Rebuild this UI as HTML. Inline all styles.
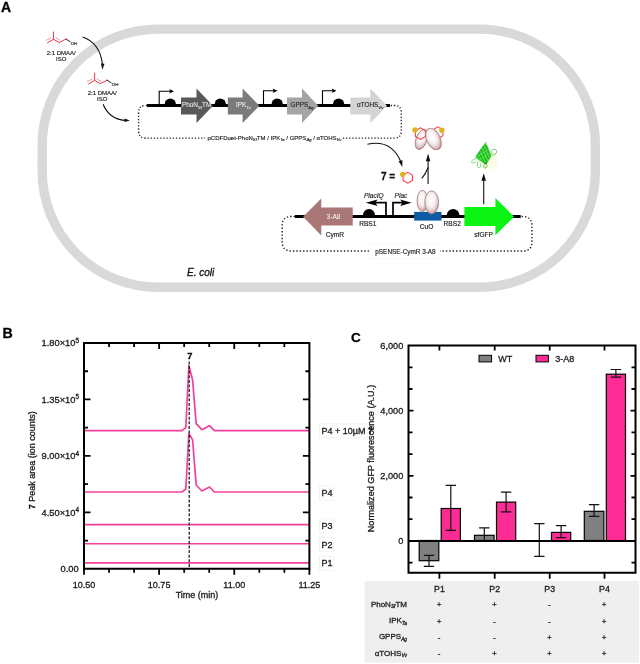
<!DOCTYPE html>
<html><head><meta charset="utf-8"><title>Figure</title>
<style>
html,body{margin:0;padding:0;background:#fff;width:640px;height:664px;overflow:hidden}
svg{display:block}
text{font-family:"Liberation Sans",Arial,sans-serif}
.it{font-style:italic}
.b{font-weight:bold}
</style></head><body>
<svg width="640" height="664" viewBox="0 0 640 664" fill="#1a1a1a">
<defs>
<radialGradient id="prot" cx="0.45" cy="0.4" r="0.6">
<stop offset="0" stop-color="#ffffff"/>
<stop offset="0.5" stop-color="#f6f0f1"/>
<stop offset="0.8" stop-color="#dcc8c9"/>
<stop offset="1" stop-color="#b98f91"/>
</radialGradient>
</defs>
<text x="1" y="11.5" font-size="14" class="b" fill="#000" stroke="#000" stroke-width="0.30">A</text>
<rect x="42.2" y="29.1" width="553.2" height="258.2" rx="116" ry="116" fill="none" stroke="#d9d9d9" stroke-width="9.4"/>
<g transform="translate(53.5,39.25)" stroke-linecap="round"><path d="M0,-7.25 V0 L-6,3.5 M0,0 L5.75,3.25 L12.5,-0.25" fill="none" stroke="#f4364c" stroke-width="1"/><path d="M-7.25,1 L-2.5,-1.3 M2.5,-1.3 L6.2,0.8" fill="none" stroke="#f57a90" stroke-width="0.9" stroke-dasharray="1 0.9"/><path d="M12.5,-0.25 L16.5,2.4" fill="none" stroke="#222" stroke-width="1"/><text x="17.2" y="5.3" font-size="4.4" fill="#222" stroke="#222" stroke-width="0.15">OH</text></g>
<text x="61.15" y="55" font-size="6" text-anchor="middle" stroke="#1a1a1a" stroke-width="0.15">2:1 DMAA/</text>
<text x="61.15" y="60.8" font-size="6" text-anchor="middle" stroke="#1a1a1a" stroke-width="0.15">ISO</text>
<g transform="translate(94.6,80.4)" stroke-linecap="round"><path d="M0,-7.25 V0 L-6,3.5 M0,0 L5.75,3.25 L12.5,-0.25" fill="none" stroke="#f4364c" stroke-width="1"/><path d="M-7.25,1 L-2.5,-1.3 M2.5,-1.3 L6.2,0.8" fill="none" stroke="#f57a90" stroke-width="0.9" stroke-dasharray="1 0.9"/><path d="M12.5,-0.25 L16.5,2.4" fill="none" stroke="#222" stroke-width="1"/><text x="17.2" y="5.3" font-size="4.4" fill="#222" stroke="#222" stroke-width="0.15">OH</text></g>
<text x="102.15" y="94.7" font-size="6" text-anchor="middle" stroke="#1a1a1a" stroke-width="0.15">2:1 DMAA/</text>
<text x="102.15" y="100.5" font-size="6" text-anchor="middle" stroke="#1a1a1a" stroke-width="0.15">ISO</text>
<path d="M82.7,37.1 Q100,43 102.5,64.5" fill="none" stroke="#111" stroke-width="1.1"/>
<polygon points="102.40,69.70 100.90,63.62 104.50,63.80" fill="#111"/>
<path d="M103.1,104.25 Q109,119 125,120.4" fill="none" stroke="#111" stroke-width="1.1"/>
<polygon points="130.00,120.60 124.42,122.12 124.60,118.53" fill="#111"/>
<path d="M367.4,144.2 Q391,139 400.8,161.5" fill="none" stroke="#111" stroke-width="1.1"/>
<polygon points="402.30,167.10 398.59,161.28 402.45,160.21" fill="#111"/>
<path d="M147,105.5 H145.5 Q138.6,105.5 138.6,112.5 V131 Q138.6,138.1 145.5,138.1 H394.3 Q401.3,138.1 401.3,131 V112.5 Q401.3,105.5 394.3,105.5 H390" fill="none" stroke="#222" stroke-width="1.35" stroke-dasharray="1.3 1.85"/>
<rect x="205" y="133" width="138" height="9" fill="#fff"/>
<text x="207.5" y="139.7" font-size="6" fill="#222" stroke="#222" stroke-width="0.15">pCDFDuet-PhoN<tspan font-size="4.2" dy="1.3" class="it">Sf</tspan><tspan dy="-1.3">TM / IPK</tspan><tspan font-size="4.2" dy="1.3" class="it">Ta</tspan><tspan dy="-1.3"> / GPPS</tspan><tspan font-size="4.2" dy="1.3" class="it">Ag</tspan><tspan dy="-1.3"> / αTOHS</tspan><tspan font-size="4.2" dy="1.3" class="it">Vv</tspan></text>
<rect x="147" y="104" width="243" height="3" fill="#000"/>
<path d="M159.2,104.5 V91.3 H170.7" fill="none" stroke="#000" stroke-width="1.1"/><polygon points="174,91.3 169.2,89.0 170.2,91.3 169.2,93.6" fill="#000"/>
<path d="M263.5,104.5 V90.8 H274.2" fill="none" stroke="#000" stroke-width="1.1"/><polygon points="277.5,90.8 272.7,88.5 273.7,90.8 272.7,93.1" fill="#000"/>
<path d="M322.5,104.5 V90.8 H333.2" fill="none" stroke="#000" stroke-width="1.1"/><polygon points="336.5,90.8 331.7,88.5 332.7,90.8 331.7,93.1" fill="#000"/>
<path d="M164.5,105 A5.8,6.6 0 0 1 176.10000000000002,105 Z" fill="#000"/>
<path d="M214.5,105 A5.8,6.6 0 0 1 226.10000000000002,105 Z" fill="#000"/>
<path d="M271.4,105 A5.8,6.6 0 0 1 283.0,105 Z" fill="#000"/>
<path d="M332.8,105 A5.8,6.6 0 0 1 344.40000000000003,105 Z" fill="#000"/>
<path d="M181,97.4 H196.5 V88.6 L213,105.7 L196.5,122.9 V114.4 H181 Z" fill="#595959"/>
<path d="M227.8,97.4 H242.6 V88.6 L259.4,105.7 L242.6,122.9 V114.4 H227.8 Z" fill="#7b7b7b"/>
<path d="M287,97.4 H302 V88.6 L318.3,105.7 L302,122.9 V114.4 H287 Z" fill="#a4a4a4"/>
<path d="M350.3,97.4 H370.4 V88.6 L387,105.7 L370.4,122.9 V114.4 H350.3 Z" fill="#d4d4d4"/>
<text x="182" y="107.4" font-size="6.4" fill="#fff">PhoN<tspan font-size="4.3" dy="1.5" class="it">Sf</tspan><tspan dy="-1.5">TM</tspan></text>
<text x="236" y="107.4" font-size="6.4" fill="#fff">IPK<tspan font-size="4.3" dy="1.5" class="it">Ta</tspan></text>
<text x="290.5" y="107.4" font-size="6.4" fill="#2a2a2a" stroke="#2a2a2a" stroke-width="0.15">GPPS<tspan font-size="4.3" dy="1.5" class="it">Ag</tspan></text>
<text x="357" y="107.4" font-size="6.4" fill="#2a2a2a" stroke="#2a2a2a" stroke-width="0.15">αTOHS<tspan font-size="4.3" dy="1.5" class="it">Vv</tspan></text>
<path d="M295,216.5 H291.2 Q282.2,216.5 282.2,225.5 V242 Q282.2,251 291.2,251 H522.7 Q531.9,251 531.9,242 V225.5 Q531.9,216.5 522.7,216.5 H520.7" fill="none" stroke="#222" stroke-width="1.4" stroke-dasharray="1.4 2.0"/>
<rect x="369" y="243.7" width="71" height="14.8" fill="#fff" stroke="#ececec" stroke-width="0.7" stroke-dasharray="1 1"/>
<text x="375.3" y="253.6" font-size="6.4" fill="#222" stroke="#222" stroke-width="0.15">pSENSE-CymR 3-A8</text>
<rect x="295" y="215" width="225.7" height="3" fill="#000"/>
<path d="M352.75,207.5 H321.25 V198.5 L303.1,216.8 L321.25,235.6 V225.6 H352.75 Z" fill="#a97876"/>
<text x="333.5" y="219.4" font-size="6.6" fill="#fff" text-anchor="middle">3-A8</text>
<text x="334.9" y="237.3" font-size="6.6" text-anchor="middle" stroke="#1a1a1a" stroke-width="0.15">CymR</text>
<path d="M363,215.5 A6,6.6 0 0 1 375,215.5 Z" fill="#000"/>
<text x="367.8" y="225.7" font-size="6.6" text-anchor="middle" stroke="#1a1a1a" stroke-width="0.15">RBS1</text>
<path d="M386,215.5 V202.7 H374.7" fill="none" stroke="#000" stroke-width="1.7"/><polygon points="365.7,202.7 377.7,199.39999999999998 375.2,202.7 377.7,206.0" fill="#000"/>
<path d="M393,215.5 V202.7 H403.1" fill="none" stroke="#000" stroke-width="1.7"/><polygon points="411.6,202.7 400.1,199.39999999999998 402.6,202.7 400.1,206.0" fill="#000"/>
<text x="373.8" y="197.5" font-size="6.6" class="it" text-anchor="middle" stroke="#1a1a1a" stroke-width="0.15">PlacIQ</text>
<text x="401" y="197.5" font-size="6.6" class="it" text-anchor="middle" stroke="#1a1a1a" stroke-width="0.15">Plac</text>
<rect x="414.2" y="211.9" width="27.3" height="8.7" fill="#0d5aa5"/>
<text x="426.6" y="228.5" font-size="6.6" text-anchor="middle" stroke="#1a1a1a" stroke-width="0.15">CuO</text>
<path d="M446.8,215.5 A6.3,6.6 0 0 1 459.40000000000003,215.5 Z" fill="#000"/>
<text x="452.2" y="225.9" font-size="6.6" text-anchor="middle" stroke="#1a1a1a" stroke-width="0.15">RBS2</text>
<path d="M464.4,207.1 H495.4 V198.1 L514.1,216.7 L495.4,235.3 V225.9 H464.4 Z" fill="#0cf414"/>
<text x="483.6" y="237.3" font-size="6.6" text-anchor="middle" stroke="#1a1a1a" stroke-width="0.15">sfGFP</text>
<ellipse cx="422.4" cy="200.9" rx="5.3" ry="10.6" fill="url(#prot)" stroke="#b08486" stroke-width="0.9"/>
<ellipse cx="431.7" cy="202.4" rx="6.9" ry="11.5" fill="url(#prot)" stroke="#b08486" stroke-width="0.9"/>
<ellipse cx="0" cy="0" rx="5.5" ry="10.5" transform="translate(421.5,139.5) rotate(20)" fill="url(#prot)" stroke="#b08486" stroke-width="0.9"/>
<polygon points="420.40,127.80 425.42,130.70 425.42,136.50 420.40,139.40 415.38,136.50 415.38,130.70" fill="none" stroke="#ff3a4c" stroke-width="1.05"/>
<polygon points="437.90,126.90 442.92,129.80 442.92,135.60 437.90,138.50 432.88,135.60 432.88,129.80" fill="none" stroke="#ff3a4c" stroke-width="1.05"/>
<ellipse cx="0" cy="0" rx="6.8" ry="11.5" transform="translate(433.5,139) rotate(-25)" fill="url(#prot)" stroke="#b08486" stroke-width="0.9"/>
<circle cx="415" cy="130" r="2.7" fill="#e3b31c"/>
<circle cx="441.8" cy="130.3" r="2.7" fill="#e3b31c"/>
<text x="381" y="179.8" font-size="10" class="b" fill="#111" stroke="#111" stroke-width="0.30">7 =</text>
<polygon points="407.75,172.35 412.43,175.05 412.43,180.45 407.75,183.15 403.07,180.45 403.07,175.05" fill="none" stroke="#ff3a4c" stroke-width="1.05"/>
<circle cx="402.75" cy="174.4" r="2.7" fill="#e3b31c"/>
<path d="M428.1,184 V160" fill="none" stroke="#111" stroke-width="1.1"/>
<polygon points="428.10,153.70 430.40,161.20 425.80,161.20" fill="#111"/>
<path d="M421.9,178.3 Q425.5,174 428.1,167.5" fill="none" stroke="#111" stroke-width="1.1"/>
<path d="M483.7,204.3 V179" fill="none" stroke="#111" stroke-width="1.1"/>
<polygon points="483.70,173.20 486.00,180.70 481.40,180.70" fill="#111"/>
<ellipse cx="488.5" cy="160" rx="9" ry="9.5" fill="#fdfbe4"/>
<g fill="none" stroke-linejoin="round" stroke-linecap="round"><path d="M485.2,144.2 Q487,144.5 487.6,147 L490.8,155.6 Q491,157 489.8,158 L486.6,163.4 Q485.6,164.4 484.4,163.4 L476.6,158 Q475.6,157 476.3,155.8 L483.6,145.2 Q484.2,144.2 485.2,144.2 Z" fill="#2bd42b" stroke="#1fb51f" stroke-width="0.6"/><path d="M483,147 L488.5,158.5 M481,149.5 L486.5,161.5 M479,152.5 L484.5,163 M485.5,146 L490,156" stroke="#119c11" stroke-width="0.7"/><path d="M482,148 L487.5,160 M480,151 L485.5,162.5 M484.3,146.3 L489.3,157.5" stroke="#7cf07c" stroke-width="0.45"/><path d="M478,156 L488,150 M480,159.5 L489.5,153.5" stroke="#9af59a" stroke-width="0.4"/><path d="M490.5,152 C492,149 495.5,148.5 496.5,150.5 C497.3,152.5 495.5,155 492.5,154.8 C491.5,154.6 491,153.5 491.8,152.6" stroke="#33c433" stroke-width="0.8"/><path d="M478,158 C475,158.5 471.5,160 471.5,162 C471.8,163.5 474.5,163 476,161.5 M479.5,160 C477,162 476.5,166 478.5,167.5 C480.5,168.5 481.5,166 480.5,163.5" stroke="#4fcc4f" stroke-width="0.75"/><path d="M485,163.8 C483,165 483,167.8 485,168 C487,168.2 487.5,166 486.5,164.5" stroke="#2bbf2b" stroke-width="0.8"/><path d="M484.8,143.8 C484.5,142.5 486,142 486.8,143.2" stroke="#2bbf2b" stroke-width="0.7"/><circle cx="486.2" cy="163.2" r="0.8" fill="#1040a0" stroke="none"/></g>
<text x="187" y="275.6" font-size="10" class="it" fill="#111" stroke="#111" stroke-width="0.30">E. coli</text>
<text x="2.6" y="337.6" font-size="14.2" class="b" fill="#000" stroke="#000" stroke-width="0.30">B</text>
<g fill="none" stroke="#f3419b" stroke-width="1.7" stroke-linejoin="round">
<path d="M84,562.8 H309.4"/>
<path d="M84,543.75 H309.4"/>
<path d="M84,524.7 H309.4"/>
<path d="M84,492 H182 L185.8,489 L188.9,433.3 L192.6,439.8 L196.2,485 L201.8,491 L209.5,487 L214.4,492 H309.4"/>
<path d="M84,430.7 H182 L185.8,427.7 L188.9,365.6 L192.6,380 L196.2,423.7 L201.8,429.7 L209.5,425.7 L214.4,430.7 H309.4"/>
</g>
<path d="M189.2,361.5 V568" stroke="#111" stroke-width="1.2" stroke-dasharray="3 1.6" fill="none"/>
<text x="189.9" y="358.9" font-size="9.4" font-weight="bold" text-anchor="middle" fill="#111" stroke="#111" stroke-width="0.30">7</text>
<path d="M84,343 H309.4 V568.8 H84 Z" fill="none" stroke="#000" stroke-width="2"/>
<path d="M84.00,568.8 v6 M109.04,568.8 v4 M109.04,343 v4 M134.09,568.8 v4 M134.09,343 v4 M159.13,568.8 v6 M159.13,343 v6 M184.18,568.8 v4 M184.18,343 v4 M209.22,568.8 v4 M209.22,343 v4 M234.27,568.8 v6 M234.27,343 v6 M259.31,568.8 v4 M259.31,343 v4 M284.36,568.8 v4 M284.36,343 v4 M309.40,568.8 v6 M84,371.23 h4 M309.4,371.23 h-4 M84,399.45 h6.5 M309.4,399.45 h-6.5 M84,427.67 h4 M309.4,427.67 h-4 M84,455.90 h6.5 M309.4,455.90 h-6.5 M84,484.12 h4 M309.4,484.12 h-4 M84,512.35 h6.5 M309.4,512.35 h-6.5 M84,540.57 h4 M309.4,540.57 h-4" stroke="#000" stroke-width="1.8" fill="none"/>
<text x="79" y="346.30" font-size="9.3" text-anchor="end" stroke="#1a1a1a" stroke-width="0.30">1.80×10<tspan font-size="6.4" dy="-3.7">5</tspan></text>
<text x="79" y="402.75" font-size="9.3" text-anchor="end" stroke="#1a1a1a" stroke-width="0.30">1.35×10<tspan font-size="6.4" dy="-3.7">5</tspan></text>
<text x="79" y="459.20" font-size="9.3" text-anchor="end" stroke="#1a1a1a" stroke-width="0.30">9.00×10<tspan font-size="6.4" dy="-3.7">4</tspan></text>
<text x="79" y="515.65" font-size="9.3" text-anchor="end" stroke="#1a1a1a" stroke-width="0.30">4.50×10<tspan font-size="6.4" dy="-3.7">4</tspan></text>
<text x="78.6" y="572.00" font-size="9.3" text-anchor="end" stroke="#1a1a1a" stroke-width="0.30">0.00</text>
<text x="84.00" y="587.5" font-size="9" text-anchor="middle" stroke="#1a1a1a" stroke-width="0.30">10.50</text>
<text x="159.13" y="587.5" font-size="9" text-anchor="middle" stroke="#1a1a1a" stroke-width="0.30">10.75</text>
<text x="234.27" y="587.5" font-size="9" text-anchor="middle" stroke="#1a1a1a" stroke-width="0.30">11.00</text>
<text x="309.40" y="587.5" font-size="9" text-anchor="middle" stroke="#1a1a1a" stroke-width="0.30">11.25</text>
<text x="197" y="598.2" font-size="9" text-anchor="middle" stroke="#1a1a1a" stroke-width="0.30">Time (min)</text>
<text transform="translate(35,460.3) rotate(-90)" font-size="9" text-anchor="middle" stroke="#1a1a1a" stroke-width="0.30"><tspan class="b">7</tspan> Peak area (ion counts)</text>
<rect x="319.4" y="423.8" width="48" height="14" fill="none" stroke="#f1f1f1" stroke-width="0.8"/>
<text x="321.5" y="433.8" font-size="9" stroke="#1a1a1a" stroke-width="0.30">P4 + 10µM <tspan class="b">7</tspan></text>
<rect x="319.4" y="486.0" width="14" height="14" fill="none" stroke="#f1f1f1" stroke-width="0.8"/>
<text x="321.5" y="496" font-size="9" stroke="#1a1a1a" stroke-width="0.30">P4</text>
<rect x="319.4" y="518.8" width="14" height="14" fill="none" stroke="#f1f1f1" stroke-width="0.8"/>
<text x="321.5" y="528.8" font-size="9" stroke="#1a1a1a" stroke-width="0.30">P3</text>
<rect x="319.4" y="537.6" width="14" height="14" fill="none" stroke="#f1f1f1" stroke-width="0.8"/>
<text x="321.5" y="547.6" font-size="9" stroke="#1a1a1a" stroke-width="0.30">P2</text>
<rect x="319.4" y="556.3" width="14" height="14" fill="none" stroke="#f1f1f1" stroke-width="0.8"/>
<text x="321.5" y="566.3" font-size="9" stroke="#1a1a1a" stroke-width="0.30">P1</text>
<text x="351" y="341.9" font-size="13.5" class="b" fill="#000" stroke="#000" stroke-width="0.30">C</text>
<rect x="364.7" y="581" width="274.3" height="81.6" fill="#efefef"/>
<rect x="419.2" y="540.5" width="19.6" height="20.2" fill="#808080" stroke="#000" stroke-width="1.2"/>
<rect x="441.2" y="508.5" width="19.2" height="32.4" fill="#fc2c94" stroke="#000" stroke-width="1.2"/>
<path d="M429.0,555.4 V566.3 M423.8,555.4 h10.4 M423.8,566.3 h10.4" stroke="#111" stroke-width="1.2" fill="none"/>
<path d="M450.8,485.3 V530.3 M445.6,485.3 h10.4 M445.6,530.3 h10.4" stroke="#111" stroke-width="1.2" fill="none"/>
<rect x="474.5" y="535.3" width="19.6" height="5.2" fill="#808080" stroke="#000" stroke-width="1.2"/>
<rect x="496.5" y="502.1" width="19.2" height="38.8" fill="#fc2c94" stroke="#000" stroke-width="1.2"/>
<path d="M484.3,527.8 V541.5 M479.1,527.8 h10.4 M479.1,541.5 h10.4" stroke="#111" stroke-width="1.2" fill="none"/>
<path d="M506.1,492.2 V511.9 M500.9,492.2 h10.4 M500.9,511.9 h10.4" stroke="#111" stroke-width="1.2" fill="none"/>
<rect x="551.5" y="532.4" width="19.2" height="8.5" fill="#fc2c94" stroke="#000" stroke-width="1.2"/>
<path d="M539.3,523.6 V556.3 M534.1,523.6 h10.4 M534.1,556.3 h10.4" stroke="#111" stroke-width="1.2" fill="none"/>
<path d="M561.1,525.6 V537.7 M555.9,525.6 h10.4 M555.9,537.7 h10.4" stroke="#111" stroke-width="1.2" fill="none"/>
<rect x="584.3" y="511.3" width="19.6" height="29.2" fill="#808080" stroke="#000" stroke-width="1.2"/>
<rect x="606.3" y="374.2" width="19.2" height="166.7" fill="#fc2c94" stroke="#000" stroke-width="1.2"/>
<path d="M594.1,504.6 V516.4 M588.9,504.6 h10.4 M588.9,516.4 h10.4" stroke="#111" stroke-width="1.2" fill="none"/>
<path d="M615.9,369.5 V377.2 M610.7,369.5 h10.4 M610.7,377.2 h10.4" stroke="#111" stroke-width="1.2" fill="none"/>
<path d="M408.5,540.9 H635.5" stroke="#000" stroke-width="2"/>
<path d="M408.5,345.6 H635.5 V572.8 H408.5 Z" fill="none" stroke="#000" stroke-width="2"/>
<path d="M439.4,572.8 v6 M439.4,345.6 v5 M494.7,572.8 v6 M494.7,345.6 v5 M549.7,572.8 v6 M549.7,345.6 v5 M604.5,572.8 v6 M604.5,345.6 v5 M408.5,367.30 h4 M635.5,367.30 h-4 M408.5,389.00 h4 M635.5,389.00 h-4 M408.5,410.70 h5 M635.5,410.70 h-5 M408.5,432.40 h4 M635.5,432.40 h-4 M408.5,454.10 h4 M635.5,454.10 h-4 M408.5,475.80 h5 M635.5,475.80 h-5 M408.5,497.50 h4 M635.5,497.50 h-4 M408.5,519.20 h4 M635.5,519.20 h-4 M408.5,540.90 h5 M635.5,540.90 h-5 M408.5,562.60 h4 M635.5,562.60 h-4" stroke="#000" stroke-width="1.8" fill="none"/>
<text x="403.3" y="349.10" font-size="9.2" text-anchor="end" stroke="#1a1a1a" stroke-width="0.30">6,000</text>
<text x="403.3" y="414.10" font-size="9.2" text-anchor="end" stroke="#1a1a1a" stroke-width="0.30">4,000</text>
<text x="403.3" y="479.10" font-size="9.2" text-anchor="end" stroke="#1a1a1a" stroke-width="0.30">2,000</text>
<text x="403.3" y="544.10" font-size="9.2" text-anchor="end" stroke="#1a1a1a" stroke-width="0.30">0</text>
<text transform="translate(374,458.5) rotate(-90)" font-size="9.1" text-anchor="middle" stroke="#1a1a1a" stroke-width="0.30">Normalized GFP fluorescence (A.U.)</text>
<rect x="479" y="355.3" width="12.6" height="6.6" fill="#808080" stroke="#000" stroke-width="1"/>
<text x="498.3" y="361.6" font-size="9" stroke="#1a1a1a" stroke-width="0.30">WT</text>
<rect x="536" y="355.3" width="12.4" height="6.6" fill="#fc2c94" stroke="#000" stroke-width="1"/>
<text x="555.2" y="361.6" font-size="9" stroke="#1a1a1a" stroke-width="0.30">3-A8</text>
<text x="439.4" y="592.3" font-size="8.8" text-anchor="middle" stroke="#1a1a1a" stroke-width="0.30">P1</text>
<text x="494.7" y="592.3" font-size="8.8" text-anchor="middle" stroke="#1a1a1a" stroke-width="0.30">P2</text>
<text x="549.7" y="592.3" font-size="8.8" text-anchor="middle" stroke="#1a1a1a" stroke-width="0.30">P3</text>
<text x="604.5" y="592.3" font-size="8.8" text-anchor="middle" stroke="#1a1a1a" stroke-width="0.30">P4</text>
<text x="407" y="606.5" font-size="8" text-anchor="end" fill="#222" stroke="#222" stroke-width="0.30">PhoN<tspan font-size="4.8" dy="1.7" class="it">Sf</tspan><tspan dy="-1.7">TM</tspan></text>
<text x="439.09999999999997" y="607.2" font-size="8" text-anchor="middle" fill="#111" stroke="#111" stroke-width="0.25">+</text>
<text x="494.4" y="607.2" font-size="8" text-anchor="middle" fill="#111" stroke="#111" stroke-width="0.25">+</text>
<text x="549.4000000000001" y="607.2" font-size="8" text-anchor="middle" fill="#111" stroke="#111" stroke-width="0.25">-</text>
<text x="604.2" y="607.2" font-size="8" text-anchor="middle" fill="#111" stroke="#111" stroke-width="0.25">+</text>
<text x="407" y="622.8" font-size="8" text-anchor="end" fill="#222" stroke="#222" stroke-width="0.30">IPK<tspan font-size="4.8" dy="1.7" class="it">Ta</tspan></text>
<text x="439.09999999999997" y="623.5" font-size="8" text-anchor="middle" fill="#111" stroke="#111" stroke-width="0.25">+</text>
<text x="494.4" y="623.5" font-size="8" text-anchor="middle" fill="#111" stroke="#111" stroke-width="0.25">-</text>
<text x="549.4000000000001" y="623.5" font-size="8" text-anchor="middle" fill="#111" stroke="#111" stroke-width="0.25">-</text>
<text x="604.2" y="623.5" font-size="8" text-anchor="middle" fill="#111" stroke="#111" stroke-width="0.25">+</text>
<text x="407" y="639.4" font-size="8" text-anchor="end" fill="#222" stroke="#222" stroke-width="0.30">GPPS<tspan font-size="4.8" dy="1.7" class="it">Ag</tspan></text>
<text x="439.09999999999997" y="640.1" font-size="8" text-anchor="middle" fill="#111" stroke="#111" stroke-width="0.25">-</text>
<text x="494.4" y="640.1" font-size="8" text-anchor="middle" fill="#111" stroke="#111" stroke-width="0.25">-</text>
<text x="549.4000000000001" y="640.1" font-size="8" text-anchor="middle" fill="#111" stroke="#111" stroke-width="0.25">+</text>
<text x="604.2" y="640.1" font-size="8" text-anchor="middle" fill="#111" stroke="#111" stroke-width="0.25">+</text>
<text x="407" y="655.7" font-size="8" text-anchor="end" fill="#222" stroke="#222" stroke-width="0.30">αTOHS<tspan font-size="4.8" dy="1.7" class="it">Vv</tspan></text>
<text x="439.09999999999997" y="656.4" font-size="8" text-anchor="middle" fill="#111" stroke="#111" stroke-width="0.25">-</text>
<text x="494.4" y="656.4" font-size="8" text-anchor="middle" fill="#111" stroke="#111" stroke-width="0.25">+</text>
<text x="549.4000000000001" y="656.4" font-size="8" text-anchor="middle" fill="#111" stroke="#111" stroke-width="0.25">+</text>
<text x="604.2" y="656.4" font-size="8" text-anchor="middle" fill="#111" stroke="#111" stroke-width="0.25">+</text>
</svg>
</body></html>
